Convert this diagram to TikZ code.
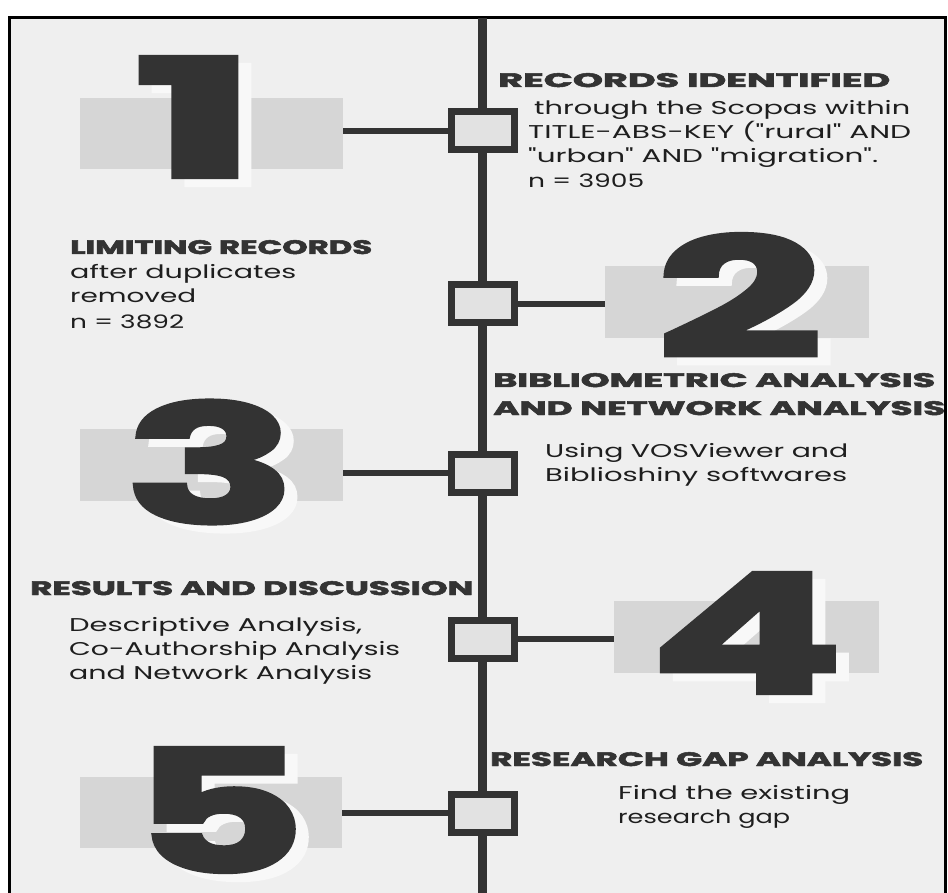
\documentclass[tikz,border=0pt]{standalone}
\usepackage{fontspec}
\usepackage{graphicx}
\setmainfont{Poppins}
\newfontfamily\headfont{Poppins}[BoldFeatures={FakeBold=2.5}]
\newfontfamily\bodyfont{Poppins}
\definecolor{bg}{HTML}{EFEFEF}
\definecolor{ink}{HTML}{333333}
\definecolor{txt}{HTML}{1E1E1E}
\definecolor{graybar}{HTML}{D6D6D6}
\definecolor{sqfill}{HTML}{E2E2E2}
\definecolor{shade}{HTML}{F8F8F8}
\newcommand{\fitw}[2]{\resizebox{#1}{\height}{#2}}
\newcommand{\bigdig}[3]{\resizebox{#1}{#2}{#3}}
\tikzset{
  head/.style={anchor=base west, inner sep=0pt, text=ink, font=\headfont\bfseries\fontsize{19.5}{20}\selectfont},
  bodytxt/.style={anchor=base west, inner sep=0pt, text=txt, font=\bodyfont\fontsize{18.5}{19}\selectfont},
  sqbox/.style={draw=ink, line width=7pt, fill=sqfill, minimum width=63pt, minimum height=38pt, inner sep=0pt},
  grect/.style={fill=graybar, inner sep=0pt},
  digit/.style={inner sep=0pt, text=ink, font=\headfont\bfseries},
  digshade/.style={inner sep=0pt, text=shade, font=\headfont\bfseries},
  conn/.style={draw=ink, line width=6pt},
  spine/.style={draw=ink, line width=9pt}
}
\begin{document}
\begin{tikzpicture}[x=1pt,y=-1pt]
\useasboundingbox (0,0) rectangle (948,893);
\fill[white] (0,0) rectangle (948,893);
\filldraw[fill=bg, draw=black, line width=3pt] (9.5,17.5) rectangle (945.5,905);

% spine
\coordinate (top) at (482.5,18);
\coordinate (bot) at (482.5,893);
\draw[spine] (top) -- (bot);

% gray bars
\node[grect, minimum width=263pt, minimum height=71pt] (r1) at (211.5,133.5) {};
\node[grect, minimum width=264pt, minimum height=72pt] (r2) at (737,302) {};
\node[grect, minimum width=263pt, minimum height=72pt] (r3) at (211.5,465) {};
\node[grect, minimum width=265pt, minimum height=72pt] (r4) at (746.5,637) {};
\node[grect, minimum width=262pt, minimum height=71pt] (r5) at (211,812.5) {};

% digit shadows
\node[digshade] (d1s) at (209,125) {\bigdig{124pt}{120pt}{1}};
\node[digshade] (d2s) at (752.5,303.5) {\bigdig{166pt}{123pt}{2}};
\node[digshade] (d3s) at (223.5,470) {\bigdig{172pt}{122pt}{3}};
\node[digshade] (d4s) at (759.5,641) {\bigdig{194pt}{120pt}{4}};
\node[digshade] (d5s) at (232,818) {\bigdig{173pt}{124pt}{5}};

% digits
\node[digit] (d1) at (196,117) {\bigdig{124pt}{120pt}{1}};
\node[digit] (d2) at (739.5,295.5) {\bigdig{166pt}{123pt}{2}};
\node[digit] (d3) at (210.5,462) {\bigdig{172pt}{122pt}{3}};
\node[digit] (d4) at (746.5,633) {\bigdig{194pt}{120pt}{4}};
\node[digit] (d5) at (219,810) {\bigdig{173pt}{124pt}{5}};

% squares
\node[sqbox] (s1) at (482.5,131) {};
\node[sqbox] (s2) at (482.5,304) {};
\node[sqbox] (s3) at (482.5,473) {};
\node[sqbox] (s4) at (482.5,639) {};
\node[sqbox] (s5) at (482.5,813) {};

% connectors
\draw[conn] (s1.west) -- (s1.west -| r1.east);
\draw[conn] (s2.east) -- (s2.east -| r2.west);
\draw[conn] (s3.west) -- (s3.west -| r3.east);
\draw[conn] (s4.east) -- (s4.east -| r4.west);
\draw[conn] (s5.west) -- (s5.west -| r5.east);

% step 1 text
\node[head] (h1) at (498,87) {\fitw{392pt}{RECORDS IDENTIFIED}};
\node[bodytxt] (b1a) at (534,115) {\fitw{376pt}{through the Scopas within}};
\node[bodytxt] (b1b) at (528,139) {\fitw{383pt}{TITLE-ABS-KEY ("rural" AND}};
\node[bodytxt] (b1c) at (528,163) {\fitw{350pt}{"urban" AND "migration".}};
\node[bodytxt] (b1d) at (528,188) {\fitw{116pt}{n = 3905}};

% step 2 text
\node[head] (h2) at (70,254) {\fitw{302pt}{LIMITING RECORDS}};
\node[bodytxt] (b2a) at (70,279) {\fitw{226pt}{after duplicates}};
\node[bodytxt] (b2b) at (70,303) {\fitw{126pt}{removed}};
\node[bodytxt] (b2c) at (70,328) {\fitw{114pt}{n = 3892}};

% step 3 text
\node[head] (h3a) at (493,387) {\fitw{442pt}{BIBLIOMETRIC ANALYSIS}};
\node[head] (h3b) at (493,415) {\fitw{452pt}{AND NETWORK ANALYSIS}};
\node[bodytxt] (b3a) at (545,457) {\fitw{303pt}{Using VOSViewer and}};
\node[bodytxt] (b3b) at (545,481) {\fitw{302pt}{Biblioshiny softwares}};

% step 4 text
\node[head] (h4) at (30,595) {\fitw{443pt}{RESULTS AND DISCUSSION}};
\node[bodytxt] (b4a) at (69,631) {\fitw{293pt}{Descriptive Analysis,}};
\node[bodytxt] (b4b) at (69,655) {\fitw{331pt}{Co-Authorship Analysis}};
\node[bodytxt] (b4c) at (69,679) {\fitw{303pt}{and Network Analysis}};

% step 5 text
\node[head] (h5) at (490,766) {\fitw{433pt}{RESEARCH GAP ANALYSIS}};
\node[bodytxt] (b5a) at (618,799) {\fitw{232pt}{Find the existing}};
\node[bodytxt] (b5b) at (618,823) {\fitw{172pt}{research gap}};
\end{tikzpicture}
\end{document}
